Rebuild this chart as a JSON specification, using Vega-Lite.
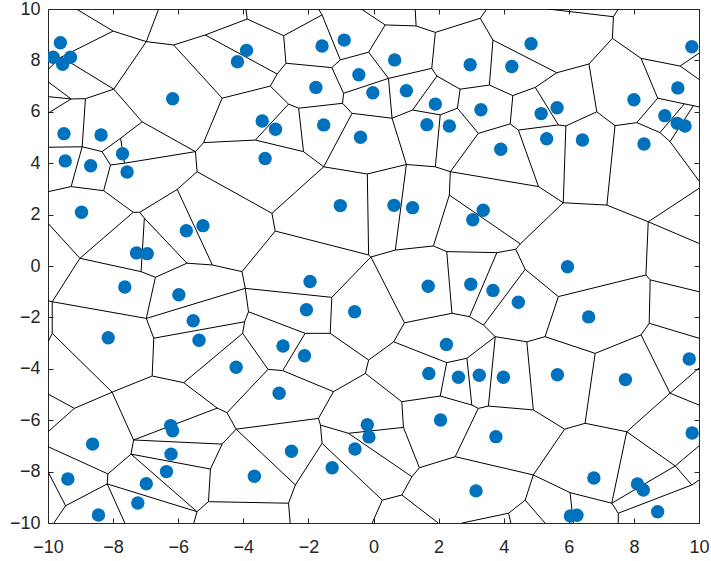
{
"$schema": "https://vega.github.io/schema/vega-lite/v6.json",
"width": 651, "height": 514,
"autosize": "none",
"padding": {"left": 48, "top": 9, "right": 12, "bottom": 38},
"background": "white",
"config": {"view": {"stroke": "#262626", "strokeWidth": 1}, "font": "Liberation Sans"},
"datasets": {
"edges": [
{"x1":-9.13,"y1":10,"x2":-8.00,"y2":9.14},{"x1":-8.00,"y1":9.14,"x2":-6.98,"y2":8.73},{"x1":-8.00,"y1":9.14,"x2":-9.59,"y2":8.13},{"x1":-6.98,"y1":8.73,"x2":-6.60,"y2":10},{"x1":-6.98,"y1":8.73,"x2":-6.14,"y2":8.60},{"x1":-6.98,"y1":8.73,"x2":-7.98,"y2":6.88},{"x1":-6.14,"y1":8.60,"x2":-5.17,"y2":8.99},{"x1":-6.14,"y1":8.60,"x2":-4.65,"y2":6.53},{"x1":-5.17,"y1":8.99,"x2":-3.88,"y2":9.61},{"x1":-5.17,"y1":8.99,"x2":-2.96,"y2":7.47},
{"x1":-3.88,"y1":9.61,"x2":-3.92,"y2":10},{"x1":-3.88,"y1":9.61,"x2":-2.76,"y2":8.96},{"x1":-9.59,"y1":8.13,"x2":-10,"y2":7.65},{"x1":-9.59,"y1":8.13,"x2":-7.98,"y2":6.88},{"x1":-7.98,"y1":6.88,"x2":-8.85,"y2":6.51},{"x1":-7.98,"y1":6.88,"x2":-7.11,"y2":5.61},{"x1":-8.85,"y1":6.51,"x2":-9.29,"y2":6.50},{"x1":-8.85,"y1":6.51,"x2":-8.95,"y2":4.64},{"x1":-9.29,"y1":6.50,"x2":-10,"y2":6.59},{"x1":-9.29,"y1":6.50,"x2":-10,"y2":7.17},
{"x1":-9.29,"y1":6.50,"x2":-10,"y2":5.94},{"x1":-8.95,"y1":4.64,"x2":-10,"y2":4.62},{"x1":-8.95,"y1":4.64,"x2":-8.34,"y2":4.45},{"x1":-8.95,"y1":4.64,"x2":-9.29,"y2":3.09},{"x1":-7.11,"y1":5.61,"x2":-5.47,"y2":4.45},{"x1":-7.11,"y1":5.61,"x2":-7.77,"y2":4.97},{"x1":-7.77,"y1":4.97,"x2":-8.34,"y2":4.45},{"x1":-7.77,"y1":4.97,"x2":-7.65,"y2":4.00},{"x1":-8.34,"y1":4.45,"x2":-8.08,"y2":3.93},{"x1":-8.08,"y1":3.93,"x2":-7.65,"y2":4.00},
{"x1":-7.65,"y1":4.00,"x2":-5.47,"y2":4.45},{"x1":-8.08,"y1":3.93,"x2":-8.29,"y2":2.93},{"x1":-5.47,"y1":4.45,"x2":-5.22,"y2":4.80},{"x1":-5.47,"y1":4.45,"x2":-5.42,"y2":3.67},{"x1":-5.22,"y1":4.80,"x2":-4.65,"y2":6.53},{"x1":-5.22,"y1":4.80,"x2":-3.63,"y2":4.90},{"x1":-5.42,"y1":3.67,"x2":-6.03,"y2":2.98},{"x1":-5.42,"y1":3.67,"x2":-3.12,"y2":2.05},{"x1":-4.65,"y1":6.53,"x2":-3.17,"y2":7.00},{"x1":-2.76,"y1":8.96,"x2":-1.58,"y2":9.77},
{"x1":-1.58,"y1":9.77,"x2":-1.69,"y2":10},{"x1":-1.58,"y1":9.77,"x2":-1.02,"y2":8.02},{"x1":-2.76,"y1":8.96,"x2":-2.69,"y2":7.89},{"x1":-2.69,"y1":7.89,"x2":-1.28,"y2":7.72},{"x1":-2.69,"y1":7.89,"x2":-2.96,"y2":7.47},{"x1":-1.28,"y1":7.72,"x2":-1.02,"y2":8.02},{"x1":-1.28,"y1":7.72,"x2":-0.92,"y2":6.72},{"x1":-1.02,"y1":8.02,"x2":-0.15,"y2":8.32},{"x1":-0.15,"y1":8.32,"x2":0.36,"y2":9.38},{"x1":-0.15,"y1":8.32,"x2":0.46,"y2":7.30},
{"x1":-0.92,"y1":6.72,"x2":0.46,"y2":7.30},{"x1":-0.92,"y1":6.72,"x2":-0.95,"y2":6.33},{"x1":-0.95,"y1":6.33,"x2":-2.30,"y2":6.14},{"x1":-0.95,"y1":6.33,"x2":-0.66,"y2":5.94},{"x1":-2.30,"y1":6.14,"x2":-2.61,"y2":6.30},{"x1":-2.30,"y1":6.14,"x2":-2.15,"y2":4.45},{"x1":-0.66,"y1":5.94,"x2":0.57,"y2":5.75},{"x1":-0.66,"y1":5.94,"x2":-1.53,"y2":3.86},{"x1":-2.61,"y1":6.30,"x2":-3.17,"y2":7.00},{"x1":-2.61,"y1":6.30,"x2":-3.63,"y2":4.90},
{"x1":-3.17,"y1":7.00,"x2":-2.96,"y2":7.47},{"x1":-3.63,"y1":4.90,"x2":-2.15,"y2":4.45},{"x1":-2.15,"y1":4.45,"x2":-1.53,"y2":3.86},{"x1":-1.53,"y1":3.86,"x2":-0.19,"y2":3.58},{"x1":-1.53,"y1":3.86,"x2":-3.12,"y2":2.05},{"x1":-0.19,"y1":3.58,"x2":1.01,"y2":3.95},{"x1":-0.19,"y1":3.58,"x2":-0.15,"y2":0.43},{"x1":-0.38,"y1":10,"x2":0.36,"y2":9.38},{"x1":0.36,"y1":9.38,"x2":1.31,"y2":9.34},{"x1":1.31,"y1":9.34,"x2":1.28,"y2":10},
{"x1":1.31,"y1":9.34,"x2":1.90,"y2":9.09},{"x1":1.90,"y1":9.09,"x2":3.28,"y2":9.64},{"x1":1.90,"y1":9.09,"x2":1.79,"y2":7.69},{"x1":3.28,"y1":9.64,"x2":3.48,"y2":10},{"x1":3.28,"y1":9.64,"x2":3.67,"y2":8.79},{"x1":3.67,"y1":8.79,"x2":3.56,"y2":7.04},{"x1":3.67,"y1":8.79,"x2":5.63,"y2":7.52},{"x1":3.56,"y1":7.04,"x2":2.66,"y2":6.88},{"x1":3.56,"y1":7.04,"x2":4.28,"y2":6.63},{"x1":1.79,"y1":7.69,"x2":0.46,"y2":7.30},
{"x1":1.79,"y1":7.69,"x2":1.95,"y2":7.39},{"x1":0.46,"y1":7.30,"x2":0.57,"y2":5.75},{"x1":1.95,"y1":7.39,"x2":2.66,"y2":6.88},{"x1":1.95,"y1":7.39,"x2":1.20,"y2":6.07},{"x1":2.66,"y1":6.88,"x2":2.58,"y2":6.14},{"x1":4.28,"y1":6.63,"x2":4.97,"y2":6.95},{"x1":4.28,"y1":6.63,"x2":4.20,"y2":5.53},{"x1":4.97,"y1":6.95,"x2":5.63,"y2":7.52},{"x1":4.97,"y1":6.95,"x2":5.68,"y2":5.49},{"x1":4.20,"y1":5.53,"x2":3.22,"y2":5.16},
{"x1":4.20,"y1":5.53,"x2":4.45,"y2":5.29},{"x1":3.22,"y1":5.16,"x2":2.58,"y2":6.14},{"x1":3.22,"y1":5.16,"x2":2.36,"y2":3.67},{"x1":4.45,"y1":5.29,"x2":5.68,"y2":5.49},{"x1":4.45,"y1":5.29,"x2":5.07,"y2":3.09},{"x1":2.58,"y1":6.14,"x2":2.05,"y2":5.88},{"x1":2.05,"y1":5.88,"x2":1.20,"y2":6.07},{"x1":2.05,"y1":5.88,"x2":1.90,"y2":3.86},{"x1":1.20,"y1":6.07,"x2":0.57,"y2":5.75},{"x1":0.57,"y1":5.75,"x2":1.01,"y2":3.95},
{"x1":1.01,"y1":3.95,"x2":1.90,"y2":3.86},{"x1":1.90,"y1":3.86,"x2":2.36,"y2":3.67},{"x1":1.01,"y1":3.95,"x2":0.67,"y2":0.62},{"x1":2.36,"y1":3.67,"x2":2.33,"y2":2.76},{"x1":2.36,"y1":3.67,"x2":5.07,"y2":3.09},{"x1":5.36,"y1":10,"x2":7.37,"y2":9.70},{"x1":7.37,"y1":9.70,"x2":7.52,"y2":10},{"x1":7.37,"y1":9.70,"x2":7.34,"y2":8.86},{"x1":7.34,"y1":8.86,"x2":6.62,"y2":7.86},{"x1":7.34,"y1":8.86,"x2":8.22,"y2":8.08},
{"x1":8.22,"y1":8.08,"x2":9.42,"y2":7.78},{"x1":9.42,"y1":7.78,"x2":10,"y2":8.28},{"x1":9.42,"y1":7.78,"x2":10,"y2":7.26},{"x1":8.22,"y1":8.08,"x2":8.73,"y2":6.53},{"x1":8.73,"y1":6.53,"x2":9.55,"y2":6.31},{"x1":9.55,"y1":6.31,"x2":9.83,"y2":6.24},{"x1":9.83,"y1":6.24,"x2":10,"y2":6.19},{"x1":8.73,"y1":6.53,"x2":8.09,"y2":5.58},{"x1":8.09,"y1":5.58,"x2":7.42,"y2":5.46},{"x1":7.42,"y1":5.46,"x2":6.86,"y2":6.00},
{"x1":6.86,"y1":6.00,"x2":6.62,"y2":7.86},{"x1":6.62,"y1":7.86,"x2":5.63,"y2":7.52},{"x1":5.68,"y1":5.49,"x2":5.91,"y2":5.45},{"x1":5.91,"y1":5.45,"x2":6.86,"y2":6.00},{"x1":5.91,"y1":5.45,"x2":5.83,"y2":2.46},{"x1":7.42,"y1":5.46,"x2":7.17,"y2":2.37},{"x1":8.09,"y1":5.58,"x2":8.80,"y2":5.19},{"x1":8.80,"y1":5.19,"x2":9.55,"y2":6.31},{"x1":8.80,"y1":5.19,"x2":9.11,"y2":4.84},{"x1":9.11,"y1":4.84,"x2":9.83,"y2":6.24},
{"x1":9.11,"y1":4.84,"x2":10,"y2":3.31},{"x1":-9.29,"y1":3.09,"x2":-10,"y2":2.89},{"x1":-9.29,"y1":3.09,"x2":-8.29,"y2":2.93},{"x1":-8.29,"y1":2.93,"x2":-7.38,"y2":2.09},{"x1":-7.38,"y1":2.09,"x2":-7.18,"y2":2.09},{"x1":-7.18,"y1":2.09,"x2":-6.03,"y2":2.98},{"x1":-6.03,"y1":2.98,"x2":-4.95,"y2":0.04},{"x1":-7.18,"y1":2.09,"x2":-7.04,"y2":1.86},{"x1":-7.04,"y1":1.86,"x2":-5.73,"y2":0.11},{"x1":-7.04,"y1":1.86,"x2":-7.14,"y2":-0.22},
{"x1":-7.38,"y1":2.09,"x2":-9.02,"y2":0.30},{"x1":-9.02,"y1":0.30,"x2":-10,"y2":1.66},{"x1":-9.02,"y1":0.30,"x2":-9.87,"y2":-1.39},{"x1":-9.02,"y1":0.30,"x2":-7.14,"y2":-0.22},{"x1":-7.14,"y1":-0.22,"x2":-6.70,"y2":-0.44},{"x1":-6.70,"y1":-0.44,"x2":-5.73,"y2":0.11},{"x1":-5.73,"y1":0.11,"x2":-4.95,"y2":0.04},{"x1":-4.95,"y1":0.04,"x2":-4.04,"y2":-0.22},{"x1":-6.70,"y1":-0.44,"x2":-6.98,"y2":-2.04},{"x1":-9.87,"y1":-1.39,"x2":-10,"y2":-1.35},
{"x1":-9.87,"y1":-1.39,"x2":-6.98,"y2":-2.04},{"x1":-9.87,"y1":-1.39,"x2":-9.87,"y2":-2.62},{"x1":-6.98,"y1":-2.04,"x2":-3.94,"y2":-0.87},{"x1":-6.98,"y1":-2.04,"x2":-6.75,"y2":-2.81},{"x1":-6.75,"y1":-2.81,"x2":-6.80,"y2":-4.28},{"x1":-6.75,"y1":-2.81,"x2":-3.96,"y2":-2.17},{"x1":-9.87,"y1":-2.62,"x2":-10,"y2":-2.96},{"x1":-9.87,"y1":-2.62,"x2":-8.03,"y2":-4.91},{"x1":-3.12,"y1":2.05,"x2":-3.02,"y2":1.36},{"x1":-3.02,"y1":1.36,"x2":-0.15,"y2":0.43},
{"x1":-3.02,"y1":1.36,"x2":-4.04,"y2":-0.22},{"x1":-0.15,"y1":0.43,"x2":-0.08,"y2":0.35},{"x1":-0.08,"y1":0.35,"x2":-1.28,"y2":-1.22},{"x1":-0.08,"y1":0.35,"x2":0.67,"y2":0.62},{"x1":-0.08,"y1":0.35,"x2":0.95,"y2":-2.21},{"x1":-4.04,"y1":-0.22,"x2":-3.94,"y2":-0.87},{"x1":-3.94,"y1":-0.87,"x2":-1.28,"y2":-1.22},{"x1":-3.94,"y1":-0.87,"x2":-3.84,"y2":-1.78},{"x1":-3.84,"y1":-1.78,"x2":-2.10,"y2":-2.62},{"x1":-3.84,"y1":-1.78,"x2":-3.96,"y2":-2.17},
{"x1":-3.96,"y1":-2.17,"x2":-4.02,"y2":-2.62},{"x1":-4.02,"y1":-2.62,"x2":-5.83,"y2":-4.54},{"x1":-4.02,"y1":-2.62,"x2":-3.24,"y2":-4.02},{"x1":-2.10,"y1":-2.62,"x2":-1.33,"y2":-2.62},{"x1":-2.10,"y1":-2.62,"x2":-2.79,"y2":-4.07},{"x1":-1.33,"y1":-2.62,"x2":-1.28,"y2":-1.22},{"x1":-1.33,"y1":-2.62,"x2":-0.15,"y2":-3.66},{"x1":0.67,"y1":0.62,"x2":1.84,"y2":0.78},{"x1":2.33,"y1":2.76,"x2":4.51,"y2":0.86},{"x1":2.33,"y1":2.76,"x2":1.84,"y2":0.78},
{"x1":5.07,"y1":3.09,"x2":5.83,"y2":2.46},{"x1":4.51,"y1":0.86,"x2":4.37,"y2":0.65},{"x1":4.51,"y1":0.86,"x2":5.83,"y2":2.46},{"x1":1.84,"y1":0.78,"x2":2.25,"y2":0.56},{"x1":2.25,"y1":0.56,"x2":3.79,"y2":0.52},{"x1":2.25,"y1":0.56,"x2":2.41,"y2":-1.84},{"x1":3.79,"y1":0.52,"x2":4.37,"y2":0.65},{"x1":3.79,"y1":0.52,"x2":2.95,"y2":-1.97},{"x1":4.37,"y1":0.65,"x2":4.66,"y2":-0.13},{"x1":4.66,"y1":-0.13,"x2":3.38,"y2":-2.30},
{"x1":4.66,"y1":-0.13,"x2":5.68,"y2":-1.19},{"x1":3.38,"y1":-2.30,"x2":2.95,"y2":-1.97},{"x1":3.38,"y1":-2.30,"x2":3.74,"y2":-2.75},{"x1":2.41,"y1":-1.84,"x2":2.95,"y2":-1.97},{"x1":2.41,"y1":-1.84,"x2":0.95,"y2":-2.21},{"x1":0.95,"y1":-2.21,"x2":0.62,"y2":-2.95},{"x1":0.62,"y1":-2.95,"x2":2.25,"y2":-3.76},{"x1":0.62,"y1":-2.95,"x2":-0.15,"y2":-3.66},{"x1":3.74,"y1":-2.75,"x2":4.71,"y2":-2.95},{"x1":3.74,"y1":-2.75,"x2":2.87,"y2":-3.59},
{"x1":3.74,"y1":-2.75,"x2":3.53,"y2":-5.45},{"x1":4.71,"y1":-2.95,"x2":5.27,"y2":-2.75},{"x1":4.71,"y1":-2.95,"x2":4.91,"y2":-5.60},{"x1":5.83,"y1":2.46,"x2":7.17,"y2":2.37},{"x1":7.17,"y1":2.37,"x2":8.44,"y2":1.72},{"x1":8.44,"y1":1.72,"x2":10,"y2":3.02},{"x1":8.44,"y1":1.72,"x2":10,"y2":0.88},{"x1":8.44,"y1":1.72,"x2":8.37,"y2":-0.35},{"x1":8.37,"y1":-0.35,"x2":8.50,"y2":-0.54},{"x1":8.37,"y1":-0.35,"x2":5.68,"y2":-1.19},
{"x1":8.50,"y1":-0.54,"x2":10,"y2":-1.00},{"x1":8.50,"y1":-0.54,"x2":8.47,"y2":-2.23},{"x1":8.47,"y1":-2.23,"x2":10,"y2":-2.81},{"x1":8.47,"y1":-2.23,"x2":8.22,"y2":-2.68},{"x1":8.22,"y1":-2.68,"x2":6.81,"y2":-3.40},{"x1":8.22,"y1":-2.68,"x2":9.11,"y2":-4.95},{"x1":5.68,"y1":-1.19,"x2":5.27,"y2":-2.75},{"x1":5.27,"y1":-2.75,"x2":6.81,"y2":-3.40},{"x1":6.81,"y1":-3.40,"x2":6.50,"y2":-6.12},{"x1":-8.03,"y1":-4.91,"x2":-6.80,"y2":-4.28},
{"x1":-6.80,"y1":-4.28,"x2":-5.83,"y2":-4.54},{"x1":-5.83,"y1":-4.54,"x2":-4.80,"y2":-5.53},{"x1":-8.03,"y1":-4.91,"x2":-9.19,"y2":-5.54},{"x1":-9.19,"y1":-5.54,"x2":-10,"y2":-4.98},{"x1":-9.19,"y1":-5.54,"x2":-10,"y2":-6.45},{"x1":-8.03,"y1":-4.91,"x2":-7.37,"y2":-6.77},{"x1":-7.37,"y1":-6.77,"x2":-4.80,"y2":-5.53},{"x1":-7.37,"y1":-6.77,"x2":-4.65,"y2":-6.93},{"x1":-7.37,"y1":-6.77,"x2":-7.45,"y2":-7.32},{"x1":-4.80,"y1":-5.53,"x2":-4.50,"y2":-5.71},
{"x1":-4.65,"y1":-6.93,"x2":-4.22,"y2":-6.35},{"x1":-4.65,"y1":-6.93,"x2":-5.01,"y2":-7.90},{"x1":-5.01,"y1":-7.90,"x2":-5.07,"y2":-9.17},{"x1":-5.01,"y1":-7.90,"x2":-7.45,"y2":-7.32},{"x1":-7.45,"y1":-7.32,"x2":-8.16,"y2":-8.09},{"x1":-7.45,"y1":-7.32,"x2":-5.42,"y2":-9.56},{"x1":-8.16,"y1":-8.09,"x2":-8.18,"y2":-8.48},{"x1":-8.16,"y1":-8.09,"x2":-10,"y2":-7.03},{"x1":-8.18,"y1":-8.48,"x2":-9.46,"y2":-9.33},{"x1":-8.18,"y1":-8.48,"x2":-5.42,"y2":-9.56},
{"x1":-8.18,"y1":-8.48,"x2":-7.64,"y2":-10},{"x1":-9.46,"y1":-9.33,"x2":-10,"y2":-8.00},{"x1":-9.46,"y1":-9.33,"x2":-9.82,"y2":-10},{"x1":-5.42,"y1":-9.56,"x2":-5.07,"y2":-9.17},{"x1":-5.42,"y1":-9.56,"x2":-5.52,"y2":-10},{"x1":-5.07,"y1":-9.17,"x2":-2.61,"y2":-9.23},{"x1":-3.24,"y1":-4.02,"x2":-2.79,"y2":-4.07},{"x1":-3.24,"y1":-4.02,"x2":-4.50,"y2":-5.71},{"x1":-2.79,"y1":-4.07,"x2":-1.23,"y2":-4.89},{"x1":-1.23,"y1":-4.89,"x2":-0.25,"y2":-4.18},
{"x1":-1.23,"y1":-4.89,"x2":-1.69,"y2":-5.93},{"x1":-0.25,"y1":-4.18,"x2":-0.15,"y2":-3.66},{"x1":-0.25,"y1":-4.18,"x2":0.87,"y2":-5.28},{"x1":-1.69,"y1":-5.93,"x2":-4.22,"y2":-6.35},{"x1":-1.69,"y1":-5.93,"x2":-1.63,"y2":-6.19},{"x1":-4.22,"y1":-6.35,"x2":-4.50,"y2":-5.71},{"x1":-4.22,"y1":-6.35,"x2":-2.40,"y2":-8.52},{"x1":-2.40,"y1":-8.52,"x2":-2.61,"y2":-9.23},{"x1":-2.61,"y1":-9.23,"x2":-2.56,"y2":-10},{"x1":-2.40,"y1":-8.52,"x2":-1.58,"y2":-6.90},
{"x1":-1.58,"y1":-6.90,"x2":-1.63,"y2":-6.19},{"x1":-1.58,"y1":-6.90,"x2":0.27,"y2":-9.11},{"x1":-1.63,"y1":-6.19,"x2":-0.77,"y2":-6.51},{"x1":-0.77,"y1":-6.51,"x2":0.92,"y2":-6.28},{"x1":-0.77,"y1":-6.51,"x2":1.18,"y2":-8.20},{"x1":0.27,"y1":-9.11,"x2":0.87,"y2":-8.91},{"x1":0.27,"y1":-9.11,"x2":-0.04,"y2":-10},{"x1":0.87,"y1":-8.91,"x2":1.18,"y2":-8.20},{"x1":0.87,"y1":-8.91,"x2":1.99,"y2":-10},{"x1":1.18,"y1":-8.20,"x2":1.41,"y2":-7.85},
{"x1":1.41,"y1":-7.85,"x2":0.92,"y2":-6.28},{"x1":1.41,"y1":-7.85,"x2":2.51,"y2":-7.42},{"x1":0.92,"y1":-6.28,"x2":0.87,"y2":-5.28},{"x1":0.87,"y1":-5.28,"x2":2.05,"y2":-5.06},{"x1":2.05,"y1":-5.06,"x2":2.25,"y2":-3.76},{"x1":2.25,"y1":-3.76,"x2":2.87,"y2":-3.59},{"x1":2.05,"y1":-5.06,"x2":3.02,"y2":-5.41},{"x1":2.87,"y1":-3.59,"x2":3.02,"y2":-5.41},{"x1":3.02,"y1":-5.41,"x2":3.22,"y2":-5.54},{"x1":3.22,"y1":-5.54,"x2":2.51,"y2":-7.42},
{"x1":3.22,"y1":-5.54,"x2":3.53,"y2":-5.45},{"x1":3.53,"y1":-5.45,"x2":4.91,"y2":-5.60},{"x1":4.91,"y1":-5.60,"x2":5.87,"y2":-6.35},{"x1":2.51,"y1":-7.42,"x2":4.91,"y2":-8.13},{"x1":4.91,"y1":-8.13,"x2":5.87,"y2":-6.35},{"x1":4.91,"y1":-8.13,"x2":6.04,"y2":-8.82},{"x1":4.91,"y1":-8.13,"x2":4.66,"y2":-9.11},{"x1":4.66,"y1":-9.11,"x2":4.15,"y2":-9.62},{"x1":4.66,"y1":-9.11,"x2":5.27,"y2":-10},{"x1":4.15,"y1":-9.62,"x2":2.72,"y2":-10},
{"x1":4.15,"y1":-9.62,"x2":4.22,"y2":-10},{"x1":6.04,"y1":-8.82,"x2":7.32,"y2":-9.23},{"x1":6.04,"y1":-8.82,"x2":6.14,"y2":-10},{"x1":7.32,"y1":-9.23,"x2":7.52,"y2":-9.62},{"x1":7.32,"y1":-9.23,"x2":7.78,"y2":-6.45},{"x1":7.32,"y1":-9.23,"x2":9.27,"y2":-7.78},{"x1":7.52,"y1":-9.62,"x2":7.52,"y2":-10},{"x1":7.52,"y1":-9.62,"x2":9.78,"y2":-8.52},{"x1":9.78,"y1":-8.52,"x2":10,"y2":-8.33},{"x1":9.78,"y1":-8.52,"x2":9.27,"y2":-7.78},
{"x1":9.27,"y1":-7.78,"x2":10,"y2":-7.00},{"x1":7.78,"y1":-6.45,"x2":9.27,"y2":-7.78},{"x1":7.78,"y1":-6.45,"x2":6.50,"y2":-6.12},{"x1":7.78,"y1":-6.45,"x2":9.11,"y2":-4.95},{"x1":6.50,"y1":-6.12,"x2":5.87,"y2":-6.35},{"x1":9.11,"y1":-4.95,"x2":10,"y2":-3.97},{"x1":9.11,"y1":-4.95,"x2":10,"y2":-5.41}
],
"pts": [
{"x":-9.62,"y":8.69},{"x":-9.84,"y":8.12},{"x":-9.31,"y":8.12},{"x":-9.55,"y":7.85},{"x":-6.17,"y":6.51},{"x":-9.51,"y":5.15},{"x":-8.37,"y":5.10},{"x":-7.71,"y":4.37},{"x":-9.47,"y":4.09},{"x":-8.69,"y":3.90},
{"x":-7.57,"y":3.66},{"x":-3.90,"y":8.39},{"x":-4.18,"y":7.95},{"x":-1.58,"y":8.56},{"x":-0.90,"y":8.79},{"x":-0.45,"y":7.44},{"x":-1.77,"y":6.95},{"x":-0.02,"y":6.74},{"x":-3.42,"y":5.64},{"x":-3.01,"y":5.32},
{"x":-1.53,"y":5.49},{"x":-0.40,"y":5.01},{"x":-3.33,"y":4.18},{"x":0.65,"y":8.02},{"x":2.97,"y":7.83},{"x":4.25,"y":7.76},{"x":4.84,"y":8.65},{"x":1.01,"y":6.82},{"x":1.90,"y":6.30},{"x":3.30,"y":6.08},
{"x":1.64,"y":5.50},{"x":2.33,"y":5.45},{"x":3.91,"y":4.54},{"x":9.78,"y":8.53},{"x":9.35,"y":6.93},{"x":8.00,"y":6.47},{"x":5.64,"y":6.16},{"x":5.15,"y":5.93},{"x":8.95,"y":5.85},{"x":9.33,"y":5.55},
{"x":9.57,"y":5.45},{"x":5.32,"y":4.95},{"x":6.42,"y":4.90},{"x":8.31,"y":4.75},{"x":-8.97,"y":2.09},{"x":-5.75,"y":1.37},{"x":-5.24,"y":1.57},{"x":-7.28,"y":0.51},{"x":-6.95,"y":0.48},{"x":-7.64,"y":-0.82},
{"x":-5.98,"y":-1.12},{"x":-5.54,"y":-2.13},{"x":-5.36,"y":-2.89},{"x":-8.15,"y":-2.79},{"x":-1.02,"y":2.35},{"x":-1.95,"y":-0.60},{"x":-2.06,"y":-1.70},{"x":-0.58,"y":-1.78},{"x":-2.78,"y":-3.11},{"x":0.63,"y":2.36},
{"x":1.20,"y":2.27},{"x":3.37,"y":2.17},{"x":3.05,"y":1.80},{"x":1.68,"y":-0.79},{"x":2.99,"y":-0.71},{"x":3.67,"y":-0.95},{"x":4.45,"y":-1.41},{"x":2.24,"y":-3.05},{"x":5.96,"y":-0.03},{"x":6.61,"y":-1.98},
{"x":-6.23,"y":-6.21},{"x":-6.17,"y":-6.41},{"x":-8.63,"y":-6.93},{"x":-6.22,"y":-7.32},{"x":-6.36,"y":-8.00},{"x":-9.39,"y":-8.29},{"x":-6.98,"y":-8.47},{"x":-7.24,"y":-9.22},{"x":-8.45,"y":-9.69},{"x":-2.12,"y":-3.49},
{"x":-4.22,"y":-3.94},{"x":-2.90,"y":-4.95},{"x":-0.19,"y":-6.18},{"x":-0.14,"y":-6.65},{"x":-0.57,"y":-7.12},{"x":-2.52,"y":-7.21},{"x":-1.27,"y":-7.85},{"x":-3.66,"y":-8.18},{"x":1.70,"y":-4.18},{"x":2.61,"y":-4.33},
{"x":3.25,"y":-4.25},{"x":3.99,"y":-4.33},{"x":2.06,"y":-5.99},{"x":3.76,"y":-6.64},{"x":3.15,"y":-8.75},{"x":5.65,"y":-4.23},{"x":7.74,"y":-4.42},{"x":9.70,"y":-3.62},{"x":9.79,"y":-6.50},{"x":6.77,"y":-8.25},
{"x":8.11,"y":-8.48},{"x":8.29,"y":-8.72},{"x":8.73,"y":-9.56},{"x":6.05,"y":-9.73},{"x":6.25,"y":-9.70}
]
},
"layer": [
{
"data": {"name": "edges"},
"mark": {"type": "rule", "color": "#000000", "strokeWidth": 1, "clip": true},
"encoding": {
"x": {"field": "x1", "type": "quantitative", "scale": {"domain": [-10, 10], "nice": false, "zero": false},
 "axis": {"orient": "bottom", "title": null, "values": [-10,-8,-6,-4,-2,0,2,4,6,8,10], "grid": false, "domain": false, "tickSize": -5, "tickColor": "#262626", "labelPadding": 20, "labelFontSize": 18, "labelColor": "#262626", "labelFont": "Liberation Sans", "labelFlush": false}},
"y": {"field": "y1", "type": "quantitative", "scale": {"domain": [-10, 10], "nice": false, "zero": false},
 "axis": {"orient": "left", "title": null, "values": [-10,-8,-6,-4,-2,0,2,4,6,8,10], "grid": false, "domain": false, "tickSize": -5, "tickColor": "#262626", "labelPadding": 13, "labelFontSize": 18, "labelColor": "#262626", "labelFont": "Liberation Sans", "labelFlush": false}},
"x2": {"field": "x2"},
"y2": {"field": "y2"}
}
},
{
"data": {"name": "pts"},
"mark": {"type": "circle", "color": "#0072BD", "opacity": 1, "size": 180, "clip": true},
"encoding": {
"x": {"field": "x", "type": "quantitative", "axis": {"orient": "top", "title": null, "values": [-10,-8,-6,-4,-2,0,2,4,6,8,10], "grid": false, "domain": false, "labels": false, "tickSize": -5, "tickColor": "#262626"}},
"y": {"field": "y", "type": "quantitative", "axis": {"orient": "right", "title": null, "values": [-10,-8,-6,-4,-2,0,2,4,6,8,10], "grid": false, "domain": false, "labels": false, "tickSize": -5, "tickColor": "#262626"}}
}
}
],
"resolve": {"axis": {"x": "independent", "y": "independent"}}
}
